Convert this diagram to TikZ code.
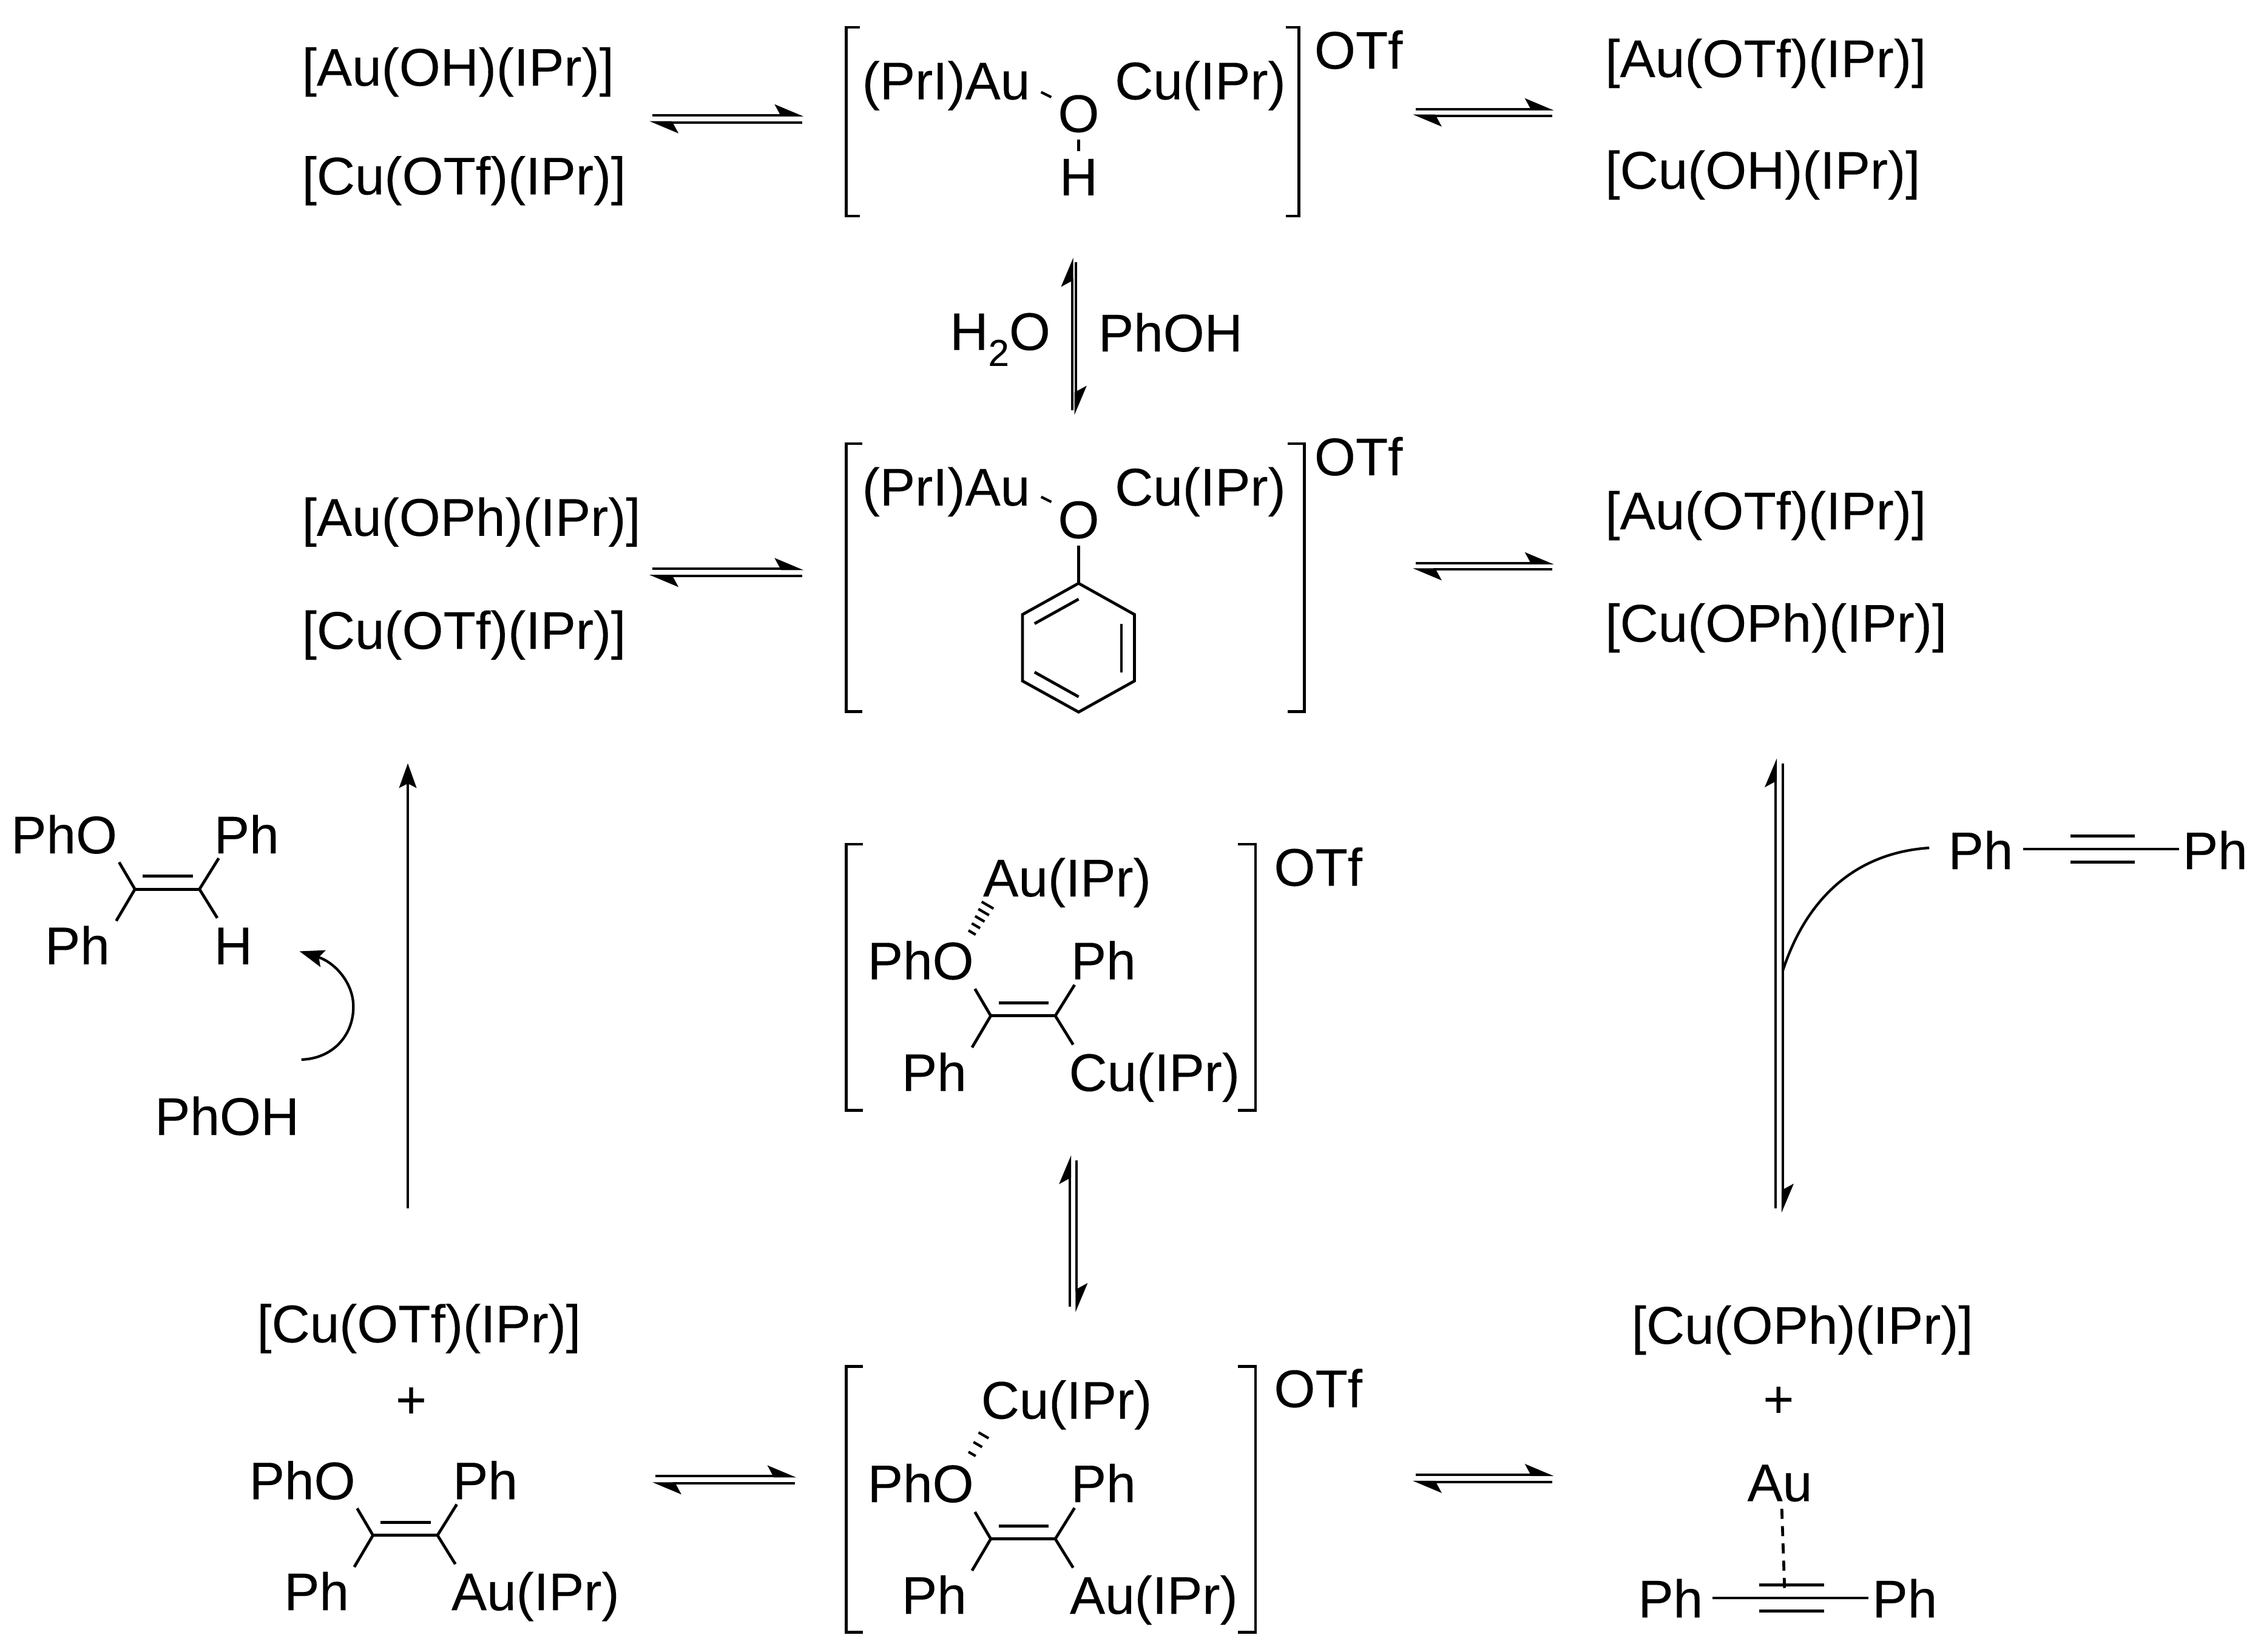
\documentclass[tikz,border=0pt]{standalone}
\usepackage{fontspec}
\setmainfont[FakeBold=0.12]{Liberation Sans}
\usetikzlibrary{arrows.meta}
\tikzset{
  lbl/.style={anchor=base west,inner sep=0pt,outer sep=0pt,xshift=-1.3pt,font=\fontsize{36.8}{40}\selectfont},
  ctr/.style={anchor=center,inner sep=0pt,outer sep=0pt,font=\fontsize{36.8}{40}\selectfont},
  bond/.style={line width=2pt,line cap=butt},
  thin bond/.style={line width=1.8pt},
  halfhead/.style={line width=1.7pt,-{Stealth[harpoon,length=18pt,width=15pt,inset=4pt]}},
  fullhead/.style={line width=1.8pt,-{Stealth[length=17pt,width=12pt,inset=3pt]}},
}
% prefix, left x, right x, upper y, lower y
\newcommand{\eqh}[5]{%
  \coordinate (#1ua) at (#2+2,#4); \coordinate (#1ub) at (#3,#4);
  \coordinate (#1la) at (#3-1,#5); \coordinate (#1lb) at (#2,#5);
  \draw[halfhead] (#1ua) -- (#1ub);
  \draw[halfhead] (#1la) -- (#1lb);}
% prefix, left x, right x, top y up, bottom y up, top y down, bottom y down
\newcommand{\eqv}[7]{%
  \coordinate (#1ua) at (#2,#5); \coordinate (#1ub) at (#2,#4);
  \coordinate (#1da) at (#3,#6); \coordinate (#1db) at (#3,#7);
  \draw[halfhead] (#1ua) -- (#1ub);
  \draw[halfhead] (#1da) -- (#1db);}
% prefix, left, left tip, right tip, right, top, bottom
\newcommand{\brk}[7]{%
  \coordinate (#1a) at (#3,#6); \coordinate (#1b) at (#2,#6);
  \coordinate (#1c) at (#2,#7); \coordinate (#1d) at (#3,#7);
  \coordinate (#1e) at (#4,#6); \coordinate (#1f) at (#5,#6);
  \coordinate (#1g) at (#5,#7); \coordinate (#1h) at (#4,#7);
  \draw[bond,line cap=butt,line join=miter] (#1a) -- (#1b) -- (#1c) -- (#1d);
  \draw[bond,line cap=butt,line join=miter] (#1e) -- (#1f) -- (#1g) -- (#1h);}
% prefix, C1 x, y ; C=C unit with four substituent bonds
\newcommand{\vinyl}[3]{%
  \coordinate (#1c) at (#2,#3); \coordinate (#1d) at (#2+44.8,#3);
  \coordinate (#1i) at (#2+5.4,#3-9); \coordinate (#1j) at (#2+40.2,#3-9);
  \coordinate (#1o) at (#2-11,#3-18.7); \coordinate (#1p) at (#2-13,#3+22);
  \coordinate (#1q) at (#2+58.2,#3-21.5); \coordinate (#1r) at (#2+57.2,#3+20);
  \draw[bond] (#1c) -- (#1d);
  \draw[bond] (#1i) -- (#1j);
  \draw[bond] (#1c) -- (#1o);
  \draw[bond] (#1c) -- (#1p);
  \draw[bond] (#1d) -- (#1q);
  \draw[bond] (#1d) -- (#1r);}
% prefix, start x,y, then Ph-C#C-Ph bond
\newcommand{\triple}[6]{%
  \coordinate (#1a) at (#2,#4); \coordinate (#1b) at (#3,#4);
  \coordinate (#1c) at (#5,#4-9); \coordinate (#1d) at (#6,#4-9);
  \coordinate (#1e) at (#5,#4+9); \coordinate (#1f) at (#6,#4+9);
  \draw[bond] (#1a) -- (#1b);
  \draw[bond] (#1c) -- (#1d);
  \draw[bond] (#1e) -- (#1f);}
\begin{document}
\begin{tikzpicture}[x=1pt,y=-1pt]
\useasboundingbox (0,0) rectangle (1568,1147);

% ---- top row ----
\node[lbl] (a1) at (211,59.5) {[Au(OH)(IPr)]};
\node[lbl] (a2) at (211,135) {[Cu(OTf)(IPr)]};
\node[lbl] (a3) at (600,69) {(PrI)Au};
\node[lbl] (a4) at (775.5,69) {Cu(IPr)};
\node[ctr] (a5) at (749,79) {O};
\node[ctr] (a6) at (749,123) {H};
\node[lbl] (a7) at (914,47.7) {OTf};
\node[lbl] (a8) at (1116,53.5) {[Au(OTf)(IPr)]};
\node[lbl] (a9) at (1116,131) {[Cu(OH)(IPr)]};
\brk{ba}{587.5}{597}{893}{902}{19}{150}
\draw[thin bond] (a5.south |- 0,97) -- (a5.south |- 0,105);
\coordinate (ah1) at (723,64); \coordinate (ah2) at (730,67.5);
\draw[thin bond] (ah1) -- (ah2);
\eqh{ea}{451}{558}{80}{85}
\eqh{eb}{981}{1079}{75.8}{80.3}

% ---- vertical H2O / PhOH ----
\eqv{ev}{744.4}{747}{179}{285}{182}{288}
\node[lbl] (w1) at (661,243) {H\raisebox{-0.3em}{\fontsize{26}{26}\selectfont 2}O};
\node[lbl] (w2) at (764,244) {PhOH};

% ---- second row ----
\node[lbl] (b1) at (211,372) {[Au(OPh)(IPr)]};
\node[lbl] (b2) at (211,450.5) {[Cu(OTf)(IPr)]};
\node[lbl] (b3) at (600,351) {(PrI)Au};
\node[lbl] (b4) at (775.5,351) {Cu(IPr)};
\node[ctr] (b5) at (749,361) {O};
\node[lbl] (b7) at (914,330) {OTf};
\node[lbl] (b8) at (1116,367.5) {[Au(OTf)(IPr)]};
\node[lbl] (b9) at (1116,445.5) {[Cu(OPh)(IPr)]};
\brk{bb}{587.5}{599}{894}{905.7}{308}{494}
\coordinate (bh1) at (723,345); \coordinate (bh2) at (730,348.5);
\draw[thin bond] (bh1) -- (bh2);
\eqh{ec}{451}{558}{395}{400}
\eqh{ed}{981}{1079}{391}{395.4}
\coordinate (r1) at (749,405); \coordinate (r2) at (787.8,426.7);
\coordinate (r3) at (787.8,472.8); \coordinate (r4) at (749,494.4);
\coordinate (r5) at (710,472.8); \coordinate (r6) at (710,426.7);
\coordinate (r0) at (749,379);
\draw[bond] (r0) -- (r1);
\draw[bond,line join=miter] (r1) -- (r2) -- (r3) -- (r4) -- (r5) -- (r6) -- cycle;
\coordinate (i1) at (718.4,433); \coordinate (i2) at (749,416);
\coordinate (i3) at (778.7,433); \coordinate (i4) at (778.7,467);
\coordinate (i5) at (718.4,466.7); \coordinate (i6) at (749,483.8);
\draw[bond] (i1) -- (i2);
\draw[bond] (i3) -- (i4);
\draw[bond] (i5) -- (i6);

% ---- left column ----
\coordinate (upa) at (283.2,839); \coordinate (upb) at (283.2,530);
\draw[fullhead] (upa) -- (upb);
\node[lbl] (e1) at (9,592.5) {PhO};
\node[lbl] (e2) at (150,592.5) {Ph};
\node[lbl] (e3) at (32.5,669.5) {Ph};
\node[lbl] (e4) at (150,669.5) {H};
\vinyl{ve}{93.7}{617.4}
\node[lbl] (e5) at (108.8,788) {PhOH};
\coordinate (cva) at (209.3,735.7); \coordinate (cvb) at (208,660.5);
\draw[fullhead] (cva) .. controls (231,735) and (245.4,719) .. (245.4,699) .. controls (245.4,682) and (232,668) .. (cvb);

% ---- bottom left ----
\node[lbl] (f1) at (179.7,932) {[Cu(OTf)(IPr)]};
\node[ctr] (f2) at (285.5,974) {+};
\node[lbl] (f3) at (174.4,1041) {PhO};
\node[lbl] (f4) at (315.7,1041) {Ph};
\node[lbl] (f5) at (198.6,1118) {Ph};
\node[lbl] (f6) at (314.8,1118) {Au(IPr)};
\vinyl{vf}{259}{1066}
\eqh{ee}{453}{553}{1025}{1030}

% ---- centre complex 3 ----
\brk{bc}{587.7}{599.3}{859.7}{871.8}{586.2}{771}
\node[lbl] (g1) at (684,622.4) {Au(IPr)};
\node[lbl] (g2) at (603.8,680) {PhO};
\node[lbl] (g3) at (745,680) {Ph};
\node[lbl] (g4) at (627.5,757.5) {Ph};
\node[lbl] (g5) at (743.6,757.5) {Cu(IPr)};
\node[lbl] (g6) at (886,615) {OTf};
\vinyl{vg}{688}{705.3}
\foreach \px/\py/\wd in {675/647.5/5,677.7/642.8/5.8,680.4/638/6.6,683.1/633.3/7.4,685.8/628.5/8.2}{
  \draw[thin bond] (\px-\wd*.5,\py-\wd*.29) -- (\px+\wd*.5,\py+\wd*.29);
}
\eqv{ew}{743}{747.7}{802}{907.4}{805.6}{911}

% ---- centre complex 4 ----
\brk{bd}{587.7}{599.3}{859.7}{871.8}{948.7}{1133.4}
\node[lbl] (h1) at (682.6,985) {Cu(IPr)};
\node[lbl] (h2) at (603.8,1043) {PhO};
\node[lbl] (h3) at (745,1043) {Ph};
\node[lbl] (h4) at (627.5,1120.5) {Ph};
\node[lbl] (h5) at (744.2,1120.5) {Au(IPr)};
\node[lbl] (h6) at (886,977) {OTf};
\vinyl{vh}{688}{1068.5}
\foreach \px/\py/\wd in {675/1009.5/5,679/1003/6,683/996.6/7}{
  \draw[thin bond] (\px-\wd*.5,\py-\wd*.29) -- (\px+\wd*.5,\py+\wd*.29);
}
\eqh{ef}{981}{1079}{1024}{1029}

% ---- right column ----
\eqv{ex}{1233}{1238}{526.5}{839}{530}{842}
\coordinate (cra) at (1339.7,588.7); \coordinate (crb) at (1238,674);
\draw[thin bond] (cra) .. controls (1290,592) and (1255,622) .. (crb);
\node[lbl] (k1) at (1354.2,603.5) {Ph};
\node[lbl] (k2) at (1517,603.5) {Ph};
\triple{ta}{1404.8}{1513}{589.5}{1437.7}{1482.3}
\node[lbl] (m1) at (1134.3,933) {[Cu(OPh)(IPr)]};
\node[ctr] (m2) at (1235,973.5) {+};
\node[lbl] (m3) at (1214.7,1042.3) {Au};
\node[lbl] (m4) at (1138.8,1123) {Ph};
\node[lbl] (m5) at (1301.5,1123) {Ph};
\triple{tb}{1189}{1297.6}{1109.5}{1221.6}{1266.8}
\coordinate (da) at (1237.3,1047.6); \coordinate (db) at (1239.4,1107);
\draw[bond,dash pattern=on 7pt off 5pt] (da) -- (db);
\end{tikzpicture}
\end{document}
